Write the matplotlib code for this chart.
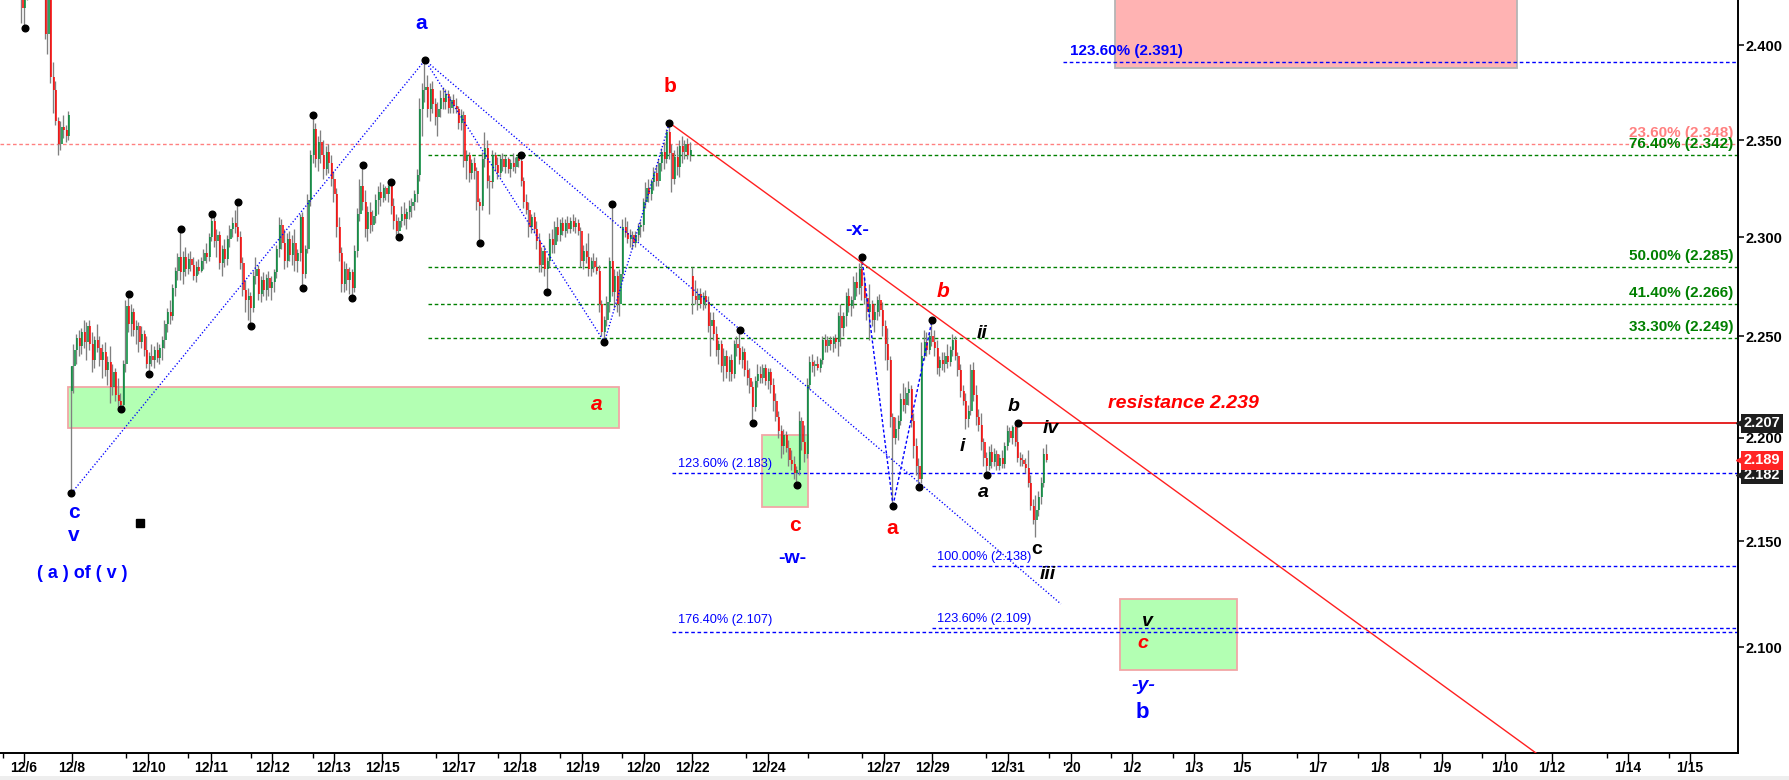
import numpy as np
import matplotlib
matplotlib.use("Agg")
import matplotlib.pyplot as plt
from matplotlib.collections import LineCollection
from matplotlib.patches import Rectangle
from matplotlib import font_manager as fm
import matplotlib.transforms as mtransforms

# ---------------- data (prices in thousandths) ----------------
opens = [
 2440,2420,2428,2437,2446,2441,2449,2440,2436,2433,
 2406,2426,2383,2376,2360,2348,2357,2355,2352,2223,
 2235,2243,2249,2245,2252,2247,2255,2246,2238,2248,
 2244,2238,2242,2233,2237,2225,2232,2221,2218,2216,
 2236,2265,2256,2262,2253,2255,2247,2251,2243,2236,
 2240,2238,2243,2239,2244,2248,2256,2262,2260,2274,
 2283,2290,2282,2290,2284,2289,2286,2280,2285,2283,
 2288,2292,2290,2300,2308,2298,2301,2287,2294,2289,
 2299,2304,2307,2305,2300,2287,2273,2268,2270,2264,
 2280,2284,2271,2278,2273,2279,2274,2277,2282,2294,
 2306,2297,2288,2299,2291,2297,2288,2292,2310,2281,
 2294,2319,2342,2356,2340,2349,2342,2335,2344,2338,
 2330,2322,2305,2292,2276,2284,2278,2282,2274,2293,
 2312,2326,2318,2304,2313,2306,2311,2319,2323,2320,
 2325,2322,2326,2316,2308,2303,2308,2312,2309,2313,
 2316,2318,2322,2332,2366,2376,2378,2366,2377,2369,
 2362,2366,2372,2370,2374,2367,2371,2368,2366,2359,
 2363,2339,2342,2333,2338,2334,2318,2316,2340,2346,
 2329,2328,2342,2337,2333,2340,2336,2340,2335,2338,
 2336,2341,2339,2329,2318,2314,2305,2310,2304,2298,
 2286,2293,2284,2288,2299,2296,2305,2301,2307,2303,
 2307,2304,2308,2305,2307,2303,2288,2293,2290,2284,
 2288,2285,2283,2266,2252,2258,2267,2288,2272,2280,
 2266,2281,2305,2302,2299,2301,2297,2301,2305,2306,
 2318,2325,2322,2328,2333,2329,2338,2344,2340,2354,
 2343,2330,2341,2336,2347,2344,2348,2342,2280,2270,
 2268,2271,2266,2270,2267,2255,2258,2251,2243,2246,
 2235,2240,2232,2238,2231,2246,2244,2238,2242,2233,
 2229,2225,2215,2228,2231,2229,2234,2228,2232,2226,
 2218,2210,2203,2196,2201,2195,2189,2187,2183,2184,
 2208,2198,2192,2226,2237,2235,2236,2234,2238,2248,
 2245,2248,2246,2249,2247,2260,2254,2260,2270,2265,
 2268,2277,2274,2284,2275,2269,2262,2266,2258,2262,
 2268,2263,2255,2246,2238,2210,2200,2204,2208,2219,
 2216,2222,2224,2208,2196,2186,2180,2240,2247,2243,
 2250,2247,2244,2234,2238,2236,2240,2237,2243,2248,
 2240,2233,2223,2218,2209,2213,2233,2221,2210,2206,
 2198,2190,2186,2193,2188,2192,2186,2190,2187,2196,
 2203,2200,2205,2198,2190,2189,2187,2185,2178,2167,
 2160,2165,2171,2178,2192]
highs = [
 2446,2433,2444,2452,2450,2456,2452,2445,2441,2436,
 2431,2428,2391,2381,2362,2360,2363,2358,2365,2235,
 2246,2251,2253,2254,2258,2257,2258,2252,2250,2256,
 2250,2246,2247,2240,2245,2236,2234,2229,2222,2238,
 2268,2271,2266,2264,2258,2257,2255,2253,2250,2242,
 2246,2245,2247,2246,2250,2258,2264,2268,2276,2285,
 2292,2304,2293,2295,2292,2293,2290,2288,2289,2290,
 2294,2297,2302,2312,2310,2304,2303,2296,2299,2301,
 2306,2310,2314,2318,2303,2290,2278,2274,2272,2283,
 2290,2286,2280,2282,2281,2283,2280,2284,2296,2310,
 2309,2304,2302,2303,2301,2304,2294,2312,2313,2296,
 2322,2345,2363,2359,2352,2355,2350,2347,2348,2342,
 2334,2325,2310,2295,2288,2287,2285,2284,2296,2315,
 2330,2337,2324,2316,2318,2314,2322,2326,2328,2327,
 2326,2327,2328,2320,2312,2310,2316,2318,2315,2319,
 2320,2324,2335,2372,2380,2392,2384,2380,2381,2372,
 2370,2376,2378,2377,2376,2373,2374,2372,2368,2366,
 2365,2345,2344,2340,2341,2336,2320,2344,2354,2350,
 2332,2345,2344,2341,2342,2343,2342,2341,2340,2343,
 2341,2341,2342,2331,2322,2318,2312,2313,2308,2302,
 2295,2296,2290,2302,2304,2308,2310,2309,2310,2309,
 2311,2310,2312,2310,2309,2305,2296,2297,2302,2290,
 2292,2290,2286,2268,2260,2270,2290,2317,2284,2283,
 2284,2309,2310,2308,2304,2303,2303,2307,2308,2320,
 2328,2330,2330,2336,2337,2340,2346,2349,2356,2359,
 2348,2345,2347,2350,2352,2350,2351,2349,2285,2278,
 2274,2274,2272,2273,2270,2262,2262,2255,2248,2248,
 2244,2243,2240,2241,2248,2250,2253,2245,2244,2238,
 2234,2228,2230,2236,2235,2236,2236,2234,2234,2229,
 2222,2213,2206,2204,2203,2199,2194,2191,2186,2213,
 2210,2206,2229,2240,2241,2238,2240,2239,2250,2251,
 2250,2250,2250,2251,2262,2266,2262,2272,2274,2270,
 2280,2282,2287,2290,2280,2271,2276,2268,2266,2270,
 2271,2267,2258,2254,2240,2212,2210,2211,2222,2227,
 2225,2228,2226,2212,2200,2190,2247,2253,2252,2252,
 2258,2253,2248,2240,2242,2242,2246,2245,2251,2250,
 2242,2236,2226,2222,2216,2236,2237,2226,2214,2212,
 2200,2193,2196,2197,2195,2194,2192,2194,2198,2206,
 2205,2206,2206,2207,2193,2192,2190,2194,2182,2170,
 2172,2174,2181,2195,2197]
lows = [
 2412,2409,2424,2434,2433,2438,2434,2428,2425,2403,
 2395,2380,2364,2358,2342,2345,2351,2349,2350,2173,
 2222,2236,2240,2241,2244,2238,2243,2232,2234,2242,
 2235,2229,2230,2226,2217,2221,2218,2215,2214,2215,
 2232,2252,2250,2250,2246,2242,2244,2240,2234,2231,
 2235,2234,2237,2236,2238,2244,2252,2256,2258,2270,
 2278,2278,2276,2280,2281,2283,2278,2277,2281,2282,
 2284,2287,2288,2298,2295,2290,2284,2280,2285,2286,
 2295,2300,2302,2298,2284,2270,2262,2258,2255,2262,
 2276,2268,2267,2270,2268,2270,2268,2272,2279,2290,
 2294,2284,2285,2288,2286,2283,2282,2288,2274,2279,
 2292,2316,2338,2336,2334,2338,2330,2332,2333,2326,
 2318,2300,2288,2272,2272,2273,2271,2269,2272,2290,
 2308,2314,2300,2298,2302,2303,2307,2312,2316,2318,
 2319,2318,2312,2304,2301,2300,2305,2306,2304,2309,
 2310,2314,2318,2329,2352,2370,2362,2360,2364,2358,
 2352,2362,2366,2366,2364,2364,2364,2364,2356,2355,
 2336,2330,2328,2330,2330,2314,2297,2314,2336,2325,
 2312,2325,2334,2330,2331,2334,2333,2333,2331,2334,
 2333,2336,2326,2315,2312,2300,2302,2302,2294,2282,
 2282,2280,2272,2285,2292,2292,2298,2298,2301,2300,
 2302,2302,2303,2302,2301,2285,2284,2287,2280,2280,
 2282,2281,2262,2250,2247,2255,2262,2270,2264,2262,
 2260,2278,2300,2297,2295,2294,2295,2298,2300,2303,
 2315,2318,2319,2324,2326,2326,2334,2335,2338,2340,
 2323,2327,2332,2331,2338,2340,2340,2339,2261,2266,
 2263,2264,2263,2264,2252,2240,2248,2240,2236,2232,
 2228,2229,2228,2228,2229,2240,2236,2234,2230,2226,
 2222,2207,2213,2225,2227,2227,2226,2224,2222,2213,
 2208,2200,2190,2192,2193,2186,2184,2180,2177,2182,
 2194,2188,2190,2224,2232,2230,2233,2232,2236,2242,
 2242,2243,2242,2244,2240,2245,2250,2255,2262,2260,
 2264,2270,2271,2268,2266,2258,2248,2255,2252,2258,
 2260,2250,2238,2233,2205,2167,2197,2199,2206,2213,
 2212,2216,2205,2190,2182,2176,2178,2238,2240,2241,
 2245,2240,2231,2230,2233,2232,2234,2235,2240,2238,
 2230,2220,2216,2204,2205,2211,2218,2206,2203,2194,
 2186,2182,2184,2185,2186,2184,2184,2185,2185,2194,
 2198,2197,2196,2188,2186,2186,2183,2176,2165,2158,
 2152,2162,2168,2176,2188]
closes = [
 2420,2428,2437,2446,2441,2449,2440,2436,2433,2406,
 2426,2383,2376,2360,2348,2357,2355,2352,2363,2235,
 2243,2249,2245,2252,2247,2255,2246,2238,2248,2244,
 2238,2242,2233,2237,2225,2232,2221,2218,2216,2236,
 2265,2256,2262,2253,2255,2247,2251,2243,2236,2240,
 2238,2243,2239,2244,2248,2256,2262,2260,2274,2283,
 2290,2282,2290,2284,2289,2286,2280,2285,2283,2288,
 2292,2290,2300,2308,2298,2301,2287,2294,2289,2299,
 2304,2307,2305,2300,2287,2273,2268,2270,2264,2280,
 2284,2271,2278,2273,2279,2274,2277,2282,2294,2306,
 2297,2288,2299,2291,2297,2288,2292,2310,2281,2294,
 2319,2342,2356,2340,2349,2342,2335,2344,2338,2330,
 2322,2305,2292,2276,2284,2278,2282,2274,2293,2312,
 2326,2318,2304,2313,2306,2311,2319,2323,2320,2325,
 2322,2326,2316,2308,2303,2308,2312,2309,2313,2316,
 2318,2322,2332,2366,2376,2378,2366,2377,2369,2362,
 2366,2372,2370,2374,2367,2371,2368,2366,2359,2363,
 2339,2342,2333,2338,2334,2318,2316,2340,2346,2329,
 2328,2342,2337,2333,2340,2336,2340,2335,2338,2336,
 2341,2339,2329,2318,2314,2305,2310,2304,2298,2286,
 2293,2284,2288,2299,2296,2305,2301,2307,2303,2307,
 2304,2308,2305,2307,2303,2288,2293,2290,2284,2288,
 2285,2283,2266,2252,2258,2267,2288,2272,2280,2266,
 2281,2305,2302,2299,2301,2297,2301,2305,2306,2318,
 2325,2322,2328,2333,2329,2338,2344,2340,2354,2343,
 2330,2341,2336,2347,2344,2348,2342,2345,2270,2268,
 2271,2266,2270,2267,2255,2258,2251,2243,2246,2235,
 2240,2232,2238,2231,2246,2244,2238,2242,2233,2229,
 2225,2215,2228,2231,2229,2234,2228,2232,2226,2218,
 2210,2203,2196,2201,2195,2189,2187,2183,2184,2208,
 2198,2192,2226,2237,2235,2236,2234,2238,2248,2245,
 2248,2246,2249,2247,2260,2254,2260,2270,2265,2268,
 2277,2274,2284,2275,2269,2262,2266,2258,2262,2268,
 2263,2255,2246,2238,2210,2200,2204,2208,2219,2216,
 2222,2224,2208,2196,2186,2180,2240,2247,2243,2250,
 2247,2244,2234,2238,2236,2240,2237,2243,2248,2240,
 2233,2223,2218,2209,2213,2233,2221,2210,2206,2198,
 2190,2186,2193,2188,2192,2186,2190,2187,2196,2203,
 2200,2205,2198,2190,2189,2187,2185,2178,2167,2160,
 2165,2171,2178,2192,2189]

# swing points marked with black dots: (bar index, 'H' high / 'L' low)
pivot_bars = [1, 19, 38, 41, 49, 61, 73, 83, 88, 108, 112, 127, 131, 142, 145,
              155, 176, 192, 202, 224, 227, 249, 276, 281, 298, 323, 335, 345,
              350, 371, 383]
pivot_side = ['L', 'L', 'L', 'H', 'L', 'H', 'H', 'H', 'L', 'L', 'H', 'L', 'H', 'H', 'L',
              'H', 'L', 'H', 'L', 'L', 'H', 'H', 'H', 'L', 'L', 'H', 'L', 'L',
              'H', 'L', 'H']

# wave connection lines between pivots (bar a -> bar b)
wave_from = [19, 155, 224, 323, 335]
wave_to = [155, 224, 249, 335, 350]
wave_dashed = [False, False, False, True, True]

# x-axis (bar index positions) and labels
date_labels = ['12/6', '12/8', '12/10', '12/11', '12/12', '12/13', '12/15', '12/17',
               '12/18', '12/19', '12/20', '12/22', '12/24', '12/27', '12/29', '12/31',
               "'20", '1/2', '1/3', '1/5', '1/7', '1/8', '1/9', '1/10', '1/12', '1/14', '1/15']
date_pos = [0.8, 19.2, 48.5, 72.7, 96.2, 120.0, 138.5, 167.7, 191.5, 215.4, 239.2,
            257.7, 286.9, 331.5, 350.0, 379.2, 403.5, 426.9, 450.8, 469.2, 498.5,
            522.3, 546.2, 570.4, 588.5, 617.7, 641.5]
minor_pos = [-7.3, 40, 63.8, 88.1, 111.9, 159.2, 183.1, 206.9, 230.8, 278.5, 302.3,
             323.1, 370.8, 395, 418.8, 442.7, 490.4, 513.8, 537.7, 561.5, 609.6, 633.5]
price_ticks = [2.100, 2.150, 2.200, 2.250, 2.300, 2.350, 2.400]

# Fibonacci levels
fib_levels = [2.391, 2.348, 2.342, 2.285, 2.266, 2.249, 2.183, 2.138, 2.109, 2.107]
fib_texts = ['123.60% (2.391)', '23.60% (2.348)', '76.40% (2.342)', '50.00% (2.285)',
             '41.40% (2.266)', '33.30% (2.249)', '123.60% (2.183)', '100.00% (2.138)',
             '123.60% (2.109)', '176.40% (2.107)']
fib_colors = ['#0000ff', '#ff8080', '#008000', '#008000', '#008000', '#008000',
              '#0000ff', '#0000ff', '#0000ff', '#0000ff']
fib_start = [400.4, -8.5, 156.2, 156.2, 156.2, 156.2, 250.0, 350.0, 350.0, 250.0]

# zones (bar index range, price range)
zone_x0 = [17.7, 284.6, 422.3, 420.4]
zone_x1 = [229.6, 302.3, 467.3, 575.0]
zone_p0 = [2.2049, 2.1663, 2.0894, 2.3879]
zone_p1 = [2.2248, 2.2012, 2.1226, 2.4600]

resistance_level = 2.207
tag_prices = [2.182, 2.207, 2.189]

# ---------------- figure ----------------
W, H = 1789, 780
available = {f.name for f in fm.fontManager.ttflist}
BASE = 'Liberation Sans' if 'Liberation Sans' in available else 'DejaVu Sans'
NARROW = 'Liberation Sans Narrow' if 'Liberation Sans Narrow' in available else BASE
small_size = 10.5 if NARROW == 'Liberation Sans Narrow' else 9.2
plt.rcParams['font.family'] = [BASE, 'DejaVu Sans']

fig = plt.figure(figsize=(W / 100, H / 100), dpi=100)
fig.patch.set_facecolor('white')
ax = fig.add_axes([0, 27 / H, 1738 / W, 753 / H])
ax.set_yscale('log')
XMIN, XMAX = -8.46, 660.0
ax.set_xlim(XMIN, XMAX)
ax.set_ylim(2.0514, 2.4241)

o = np.array(opens) / 1000.0
c = np.array(closes) / 1000.0
hi = np.maximum(np.array(highs) / 1000.0, np.maximum(o, c))
lo = np.minimum(np.array(lows) / 1000.0, np.minimum(o, c))
idx = np.arange(len(c))

# zones
zone_face = ['#b3ffb3', '#b3ffb3', '#b3ffb3', '#ffb3b3']
zone_edge = ['#f2a6a6', '#f2a6a6', '#f2a6a6', '#b5b5b5']
for k in range(len(zone_x0)):
    ax.add_patch(Rectangle((zone_x0[k], zone_p0[k]), zone_x1[k] - zone_x0[k],
                           zone_p1[k] - zone_p0[k], facecolor=zone_face[k],
                           edgecolor=zone_edge[k], lw=1.3, zorder=1))

# fib lines
for lvl, col, x0 in zip(fib_levels, fib_colors, fib_start):
    ax.plot([x0, XMAX], [lvl, lvl], color=col, lw=1.0, ls=(0, (2.6, 1.9)), zorder=2)

# candles
wicks = [[(i - 0.22, lo[i]), (i - 0.22, hi[i])] for i in idx]
ax.add_collection(LineCollection(wicks, colors='#808080', linewidths=0.95, zorder=3))
up = c > o
dn = c < o
ax.add_collection(LineCollection([[(i + 0.25, o[i]), (i + 0.25, c[i])] for i in idx[up]],
                                 colors='#008a38', linewidths=1.1, zorder=3.1))
ax.add_collection(LineCollection([[(i + 0.25, o[i]), (i + 0.25, c[i])] for i in idx[dn]],
                                 colors='#ff0000', linewidths=1.1, zorder=3.1))

def pivot_price(b, side=None):
    if side is None:
        side = pivot_side[pivot_bars.index(b)]
    return hi[b] if side == 'H' else lo[b]

# wave lines
for a, b, dashed in zip(wave_from, wave_to, wave_dashed):
    ax.plot([a, b], [pivot_price(a), pivot_price(b)], color='#0000ff', lw=1.0,
            ls=(0, (2.2, 1.6)) if dashed else (0, (0.9, 1.5)), zorder=4)
# lower channel line from wave a top through the 12/23 swing high
ax.plot([155, 399.6], [pivot_price(155), 2.1203], color='#0000ff', lw=1.0,
        ls=(0, (0.9, 1.5)), zorder=4)

# resistance trend line and horizontal resistance
ax.plot([249, 582.3], [pivot_price(249), 2.0514], color='#ff2020', lw=1.0, zorder=4)
ax.plot([383, XMAX], [resistance_level, resistance_level], color='#e00000', lw=1.2, zorder=4)

# pivot dots
ax.plot(pivot_bars, [pivot_price(b, s) for b, s in zip(pivot_bars, pivot_side)],
        'o', ms=4.8, color='black', zorder=6)
ax.plot([45.4], [2.1587], 's', ms=5.5, color='black', zorder=6)

# fib labels
right_labels = ('23.60% (2.348)', '76.40% (2.342)', '50.00% (2.285)', '41.40% (2.266)',
                '33.30% (2.249)')
for lvl, txt, col, x0 in zip(fib_levels, fib_texts, fib_colors, fib_start):
    if txt in right_labels:
        ax.annotate(txt, xy=(658.1, lvl), xytext=(0, 11), textcoords='offset pixels',
                    ha='right', va='center', color=col, fontsize=11, fontweight='bold',
                    family=BASE, zorder=7)
    elif txt == '123.60% (2.391)':
        ax.annotate(txt, xy=(403.1, lvl), xytext=(0, 11), textcoords='offset pixels',
                    ha='left', va='center', color=col, fontsize=11, fontweight='bold',
                    family=BASE, zorder=7)
    else:
        dy = 12 if txt == '176.40% (2.107)' else 9
        xl = 252.3 if x0 < 300 else 351.9
        ax.annotate(txt, xy=(xl, lvl), xytext=(0, dy), textcoords='offset pixels',
                    ha='left', va='center', color=col, fontsize=small_size,
                    family=NARROW, zorder=7)

# wave labels
wave_text = ['a', 'b', 'a', 'c', '-w-', '-x-', 'a', 'b', 'ii', 'b', 'iv', 'i', 'a', 'c',
             'iii', 'v', 'c', '-y-', 'b', 'c', 'v', '( a ) of ( v )']
wave_x = [153.5, 249.2, 221.2, 297.3, 296.2, 321.2, 334.6, 354.2, 369.2, 381.2, 395.8,
          361.5, 369.6, 390.4, 394.6, 432.7, 431.2, 431.2, 430.8, 20.0, 20.0, 23.1]
wave_y = [2.4117, 2.3778, 2.2164, 2.1577, 2.1419, 2.3031, 2.1563, 2.2726, 2.2515, 2.2154,
          2.2046, 2.1955, 2.1736, 2.1462, 2.1340, 2.1122, 2.1019, 2.0824, 2.0700, 2.1639,
          2.1529, 2.1349]
wave_color = ['#0000ff', '#ff0000', '#ff0000', '#ff0000', '#0000ff', '#0000ff', '#ff0000',
              '#ff0000', 'black', 'black', 'black', 'black', 'black', 'black', 'black',
              'black', '#ff0000', '#0000ff', '#0000ff', '#0000ff', '#0000ff', '#0000ff']
wave_style = ['b', 'b', 'bi', 'b', 'b', 'b', 'b', 'bi', 'bi', 'bi', 'bi', 'bi', 'bi', 'b',
              'bi', 'bi', 'bi', 'bi', 'b', 'b', 'b', 'b']
wave_size = [15, 15, 15, 15, 14, 14, 15, 15, 14, 14, 14, 14, 14, 14, 14, 14, 14, 14, 16,
             15, 15, 13]
for t, x, y, col, st, sz in zip(wave_text, wave_x, wave_y, wave_color, wave_style, wave_size):
    ax.text(x, y, t, color=col, fontsize=sz, fontweight='bold',
            fontstyle='italic' if 'i' in st else 'normal', family=BASE,
            ha='center', va='center', zorder=8)

ax.text(417.7, 2.2169, 'resistance 2.239', color='#ff0000', fontsize=14,
        fontweight='bold', fontstyle='italic', family=BASE, ha='left', va='center', zorder=8)

# ---------------- axes styling ----------------
for s in ('top', 'left'):
    ax.spines[s].set_visible(False)
ax.spines['right'].set_linewidth(1.4)
ax.spines['bottom'].set_linewidth(1.4)
ax.yaxis.tick_right()
ax.set_yticks(price_ticks)
ax.set_yticklabels(['%.3f' % v for v in price_ticks])
ax.yaxis.set_minor_locator(matplotlib.ticker.NullLocator())
ax.tick_params(axis='y', which='major', direction='out', length=4, width=1.1, pad=1.5,
               labelsize=10.5, colors='black')
ax.set_xticks(date_pos)
ax.set_xticklabels(date_labels)
ax.set_xticks(minor_pos, minor=True)
ax.tick_params(axis='x', which='major', direction='out', length=7, width=1, pad=-1.5,
               labelsize=10)
ax.tick_params(axis='x', which='minor', direction='out', length=3.5, width=1)
for lab in ax.get_xticklabels() + ax.get_yticklabels():
    lab.set_fontweight('bold')
    lab.set_family(BASE)

# price tags on the right axis
blend = mtransforms.blended_transform_factory(ax.transAxes, ax.transData)
tag_colors = {2.182: '#1e1e1e', 2.207: '#1e1e1e', 2.189: '#ff2424'}
for val in tag_prices:
    col = tag_colors[val]
    ax.plot([1.0 + 3 / 1738], [val], marker='<', ms=7, color=col, transform=blend,
            clip_on=False, zorder=20)
    ax.text(1.0 + 6 / 1738, val, '%.3f' % val, transform=blend, ha='left', va='center',
            color='white', fontsize=10.5, fontweight='bold', family=BASE, clip_on=False,
            zorder=21, bbox=dict(boxstyle='square,pad=0.18', fc=col, ec='none'))

fig.add_artist(Rectangle((0, 0), 1, 4 / H, transform=fig.transFigure,
                         facecolor='#eeeeee', edgecolor='none'))

fig.savefig('out.png', dpi=100, facecolor='white')
